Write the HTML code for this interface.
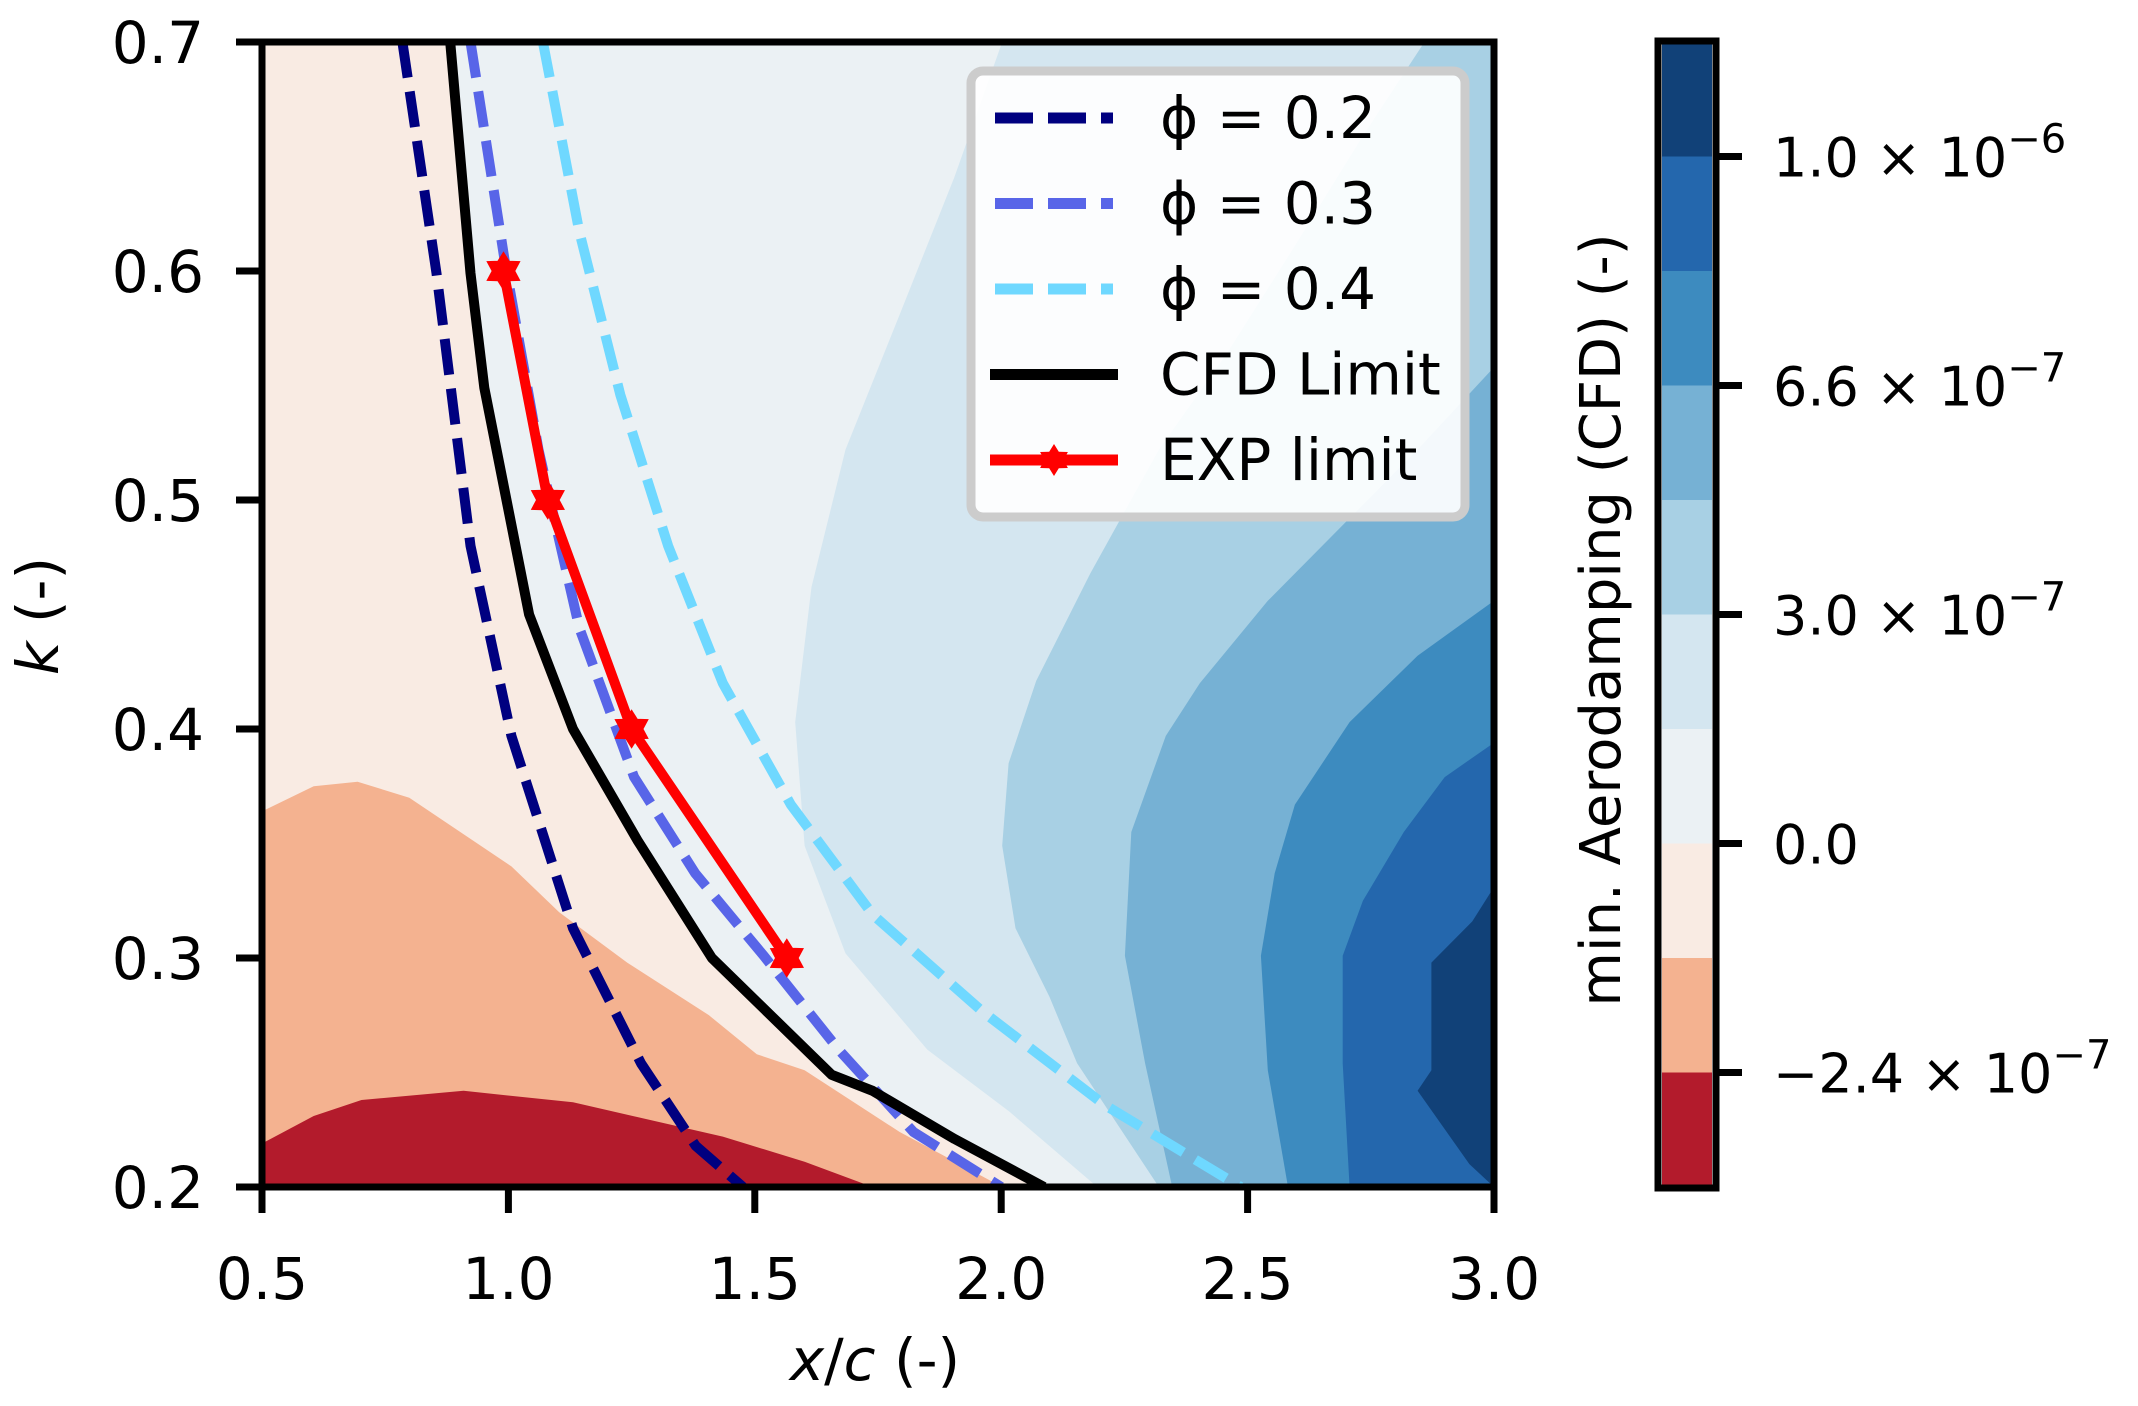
<!DOCTYPE html>
<html><head><meta charset="utf-8"><style>
html,body{margin:0;padding:0;background:#fff;width:2138px;height:1406px;overflow:hidden}
svg{display:block;font-family:"DejaVu Sans","Liberation Sans",sans-serif}
</style></head><body>
<svg id="chart" width="2138" height="1406" viewBox="0 0 2138 1406" xmlns="http://www.w3.org/2000/svg"></svg>
<script>
// ---- data ----
const xTicks = [0.5, 1.0, 1.5, 2.0, 2.5, 3.0];
const yTicks = [0.2, 0.3, 0.4, 0.5, 0.6, 0.7];
const bandColors = ["#114178","#2467ad","#3d8bbf","#76b1d4","#a8d0e4","#d4e6f0","#ebf1f4","#f9ebe3","#f4b290","#b31b2c"];
const cbTickIndex = [1, 3, 5, 7, 9];
const cbTickMant = ["1.0", "6.6", "3.0", "0.0", "\u22122.4"];
const cbTickExp = ["\u22126", "\u22127", "\u22127", "", "\u22127"];
// contour level boundaries (lower-left side regions)
const redDarkX = [0.5,0.605,0.702,0.909,1.131,1.435,1.601,1.739];
const redDarkY = [0.219,0.231,0.238,0.242,0.237,0.222,0.211,0.2];
const salmonX = [0.5,0.605,0.694,0.799,0.923,1.006,1.103,1.241,1.407,1.504,1.601,1.794,2.002];
const salmonY = [0.364,0.375,0.377,0.370,0.352,0.340,0.320,0.298,0.275,0.258,0.251,0.224,0.2];
const pinkX = [0.882,0.923,0.951,0.998,1.042,1.131,1.263,1.413,1.656,1.739,1.905,2.087];
const pinkY = [0.7,0.599,0.549,0.498,0.450,0.400,0.351,0.300,0.249,0.242,0.221,0.2];
// upper-right side regions
const pale1X = [2.002,1.905,1.794,1.684,1.615,1.582,1.601,1.684,1.850,2.016,2.195];
const pale1Y = [0.7,0.641,0.581,0.522,0.462,0.403,0.349,0.302,0.260,0.233,0.2];
const blue1X = [2.859,2.734,2.596,2.458,2.320,2.181,2.071,2.015,2.002,2.029,2.098,2.154,2.320];
const blue1Y = [0.7,0.659,0.611,0.564,0.522,0.468,0.421,0.385,0.349,0.313,0.283,0.254,0.2];
const blue2X = [3.0,2.845,2.679,2.541,2.403,2.334,2.264,2.251,2.292,2.347];
const blue2Y = [0.558,0.522,0.486,0.456,0.420,0.397,0.355,0.301,0.254,0.2];
const blue3X = [3.0,2.845,2.707,2.596,2.555,2.527,2.541,2.582];
const blue3Y = [0.456,0.432,0.403,0.367,0.337,0.301,0.251,0.2];
const blue4X = [3.0,2.900,2.817,2.734,2.693,2.693,2.707];
const blue4Y = [0.394,0.379,0.355,0.325,0.301,0.254,0.2];
const blue5X = [3.0,2.956,2.873,2.873,2.845,2.95,3.0];
const blue5Y = [0.331,0.316,0.298,0.251,0.242,0.21,0.2];
// lines
const phi02X = [0.785,0.854,0.923,1.006,1.131,1.269,1.380,1.476];
const phi02Y = [0.7,0.599,0.480,0.397,0.313,0.254,0.218,0.2];
const phi03X = [0.923,0.992,1.061,1.144,1.255,1.379,1.518,1.670,1.822,2.0];
const phi03Y = [0.7,0.605,0.522,0.444,0.379,0.337,0.301,0.260,0.224,0.2];
const phi04X = [1.070,1.144,1.227,1.324,1.435,1.573,1.739,1.960,2.209,2.486];
const phi04Y = [0.7,0.617,0.546,0.480,0.420,0.367,0.319,0.277,0.236,0.2];
const cfdX = [0.882,0.923,0.951,0.998,1.042,1.131,1.263,1.413,1.656,1.739,1.905,2.087];
const cfdY = [0.7,0.599,0.549,0.498,0.450,0.400,0.351,0.300,0.249,0.242,0.221,0.2];
const expX = [0.99,1.08,1.25,1.565];
const expY = [0.6,0.5,0.4,0.3];

// ---- layout ----
const L=262,R=1494,T=42,B=1187;
const sx = v => L + (v-0.5)/(3.0-0.5)*(R-L);
const sy = v => B - (v-0.2)/(0.7-0.2)*(B-T);
const NS="http://www.w3.org/2000/svg";
const svg=document.getElementById('chart');
function mk(tag,attrs,parent){const e=document.createElementNS(NS,tag);for(const k in attrs)e.setAttribute(k,attrs[k]);(parent||svg).appendChild(e);return e;}
const pts=(xs,ys)=>xs.map((x,i)=>sx(x).toFixed(1)+','+sy(ys[i]).toFixed(1));

const clip=mk('clipPath',{id:'pc'});mk('rect',{x:L,y:T,width:R-L,height:B-T},clip);
const plot=mk('g',{'clip-path':'url(#pc)'});


let r=mk('rect',{x:L,y:T,width:R-L,height:B-T,fill:bandColors[6]},plot);


function rightBand(xs,ys,color,name){
  const p=pts(xs,ys);p.push(sx(3.0)+','+sy(0.2));p.push(sx(3.0)+','+sy(0.7));
  const e=mk('polygon',{points:p.join(' '),fill:color},plot);
  
  
}
rightBand(pale1X,pale1Y,bandColors[5],'band-light-blue');
rightBand(blue1X,blue1Y,bandColors[4],'band-sky-blue');
rightBand(blue2X,blue2Y,bandColors[3],'band-mid-blue');
rightBand(blue3X,blue3Y,bandColors[2],'band-steel-blue');
rightBand(blue4X,blue4Y,bandColors[1],'band-blue');
rightBand(blue5X,blue5Y,bandColors[0],'band-dark-blue');
function leftBand(xs,ys,color,name){
  const p=pts(xs,ys);p.push(sx(0.5)+','+sy(0.2));
  if(ys[0]>=0.7)p.push(sx(0.5)+','+sy(0.7));
  const e=mk('polygon',{points:p.join(' '),fill:color},plot);
  
  
}
leftBand(pinkX,pinkY,bandColors[7],'band-light-pink');
leftBand(salmonX,salmonY,bandColors[8],'band-salmon');
leftBand(redDarkX,redDarkY,bandColors[9],'band-dark-red');

function line(xs,ys,color,dash,name){
  const e=mk('polyline',{points:pts(xs,ys).join(' '),fill:'none',stroke:color,'stroke-width':10,'stroke-dasharray':dash||'none','stroke-linejoin':'round'},plot);
  
  
}
line(phi02X,phi02Y,'#000080','36 14','phi-0.2-line');
line(phi03X,phi03Y,'#5865e8','36 14','phi-0.3-line');
line(phi04X,phi04Y,'#6fd8ff','36 14','phi-0.4-line');
line(cfdX,cfdY,'#000','','cfd-limit-line');
line(expX,expY,'#ff0000','','exp-limit-line');
function star(cx,cy,rad){const p=[];for(let i=0;i<12;i++){const a=-Math.PI/2+i*Math.PI/6;const rr=i%2?rad*0.6:rad;p.push((cx+rr*Math.cos(a)).toFixed(1)+','+(cy+rr*Math.sin(a)).toFixed(1));}return p.join(' ');}
expX.forEach((x,i)=>{
  const s=mk('polygon',{points:star(sx(x),sy(expY[i]),16),fill:'#ff0000',stroke:'#ff0000','stroke-width':4},svg);
  
  
});

const fr=mk('rect',{x:L,y:T,width:R-L,height:B-T,fill:'none',stroke:'#000','stroke-width':7});


xTicks.forEach(v=>{
  const x=sx(v);
  const t=mk('line',{x1:x,y1:B,x2:x,y2:B+26,stroke:'#000','stroke-width':7});
  
  
  const l=mk('text',{x:x,y:1299,'text-anchor':'middle','font-size':58});l.textContent=v.toFixed(1);
  
  
});
yTicks.forEach(v=>{
  const y=sy(v);
  const t=mk('line',{x1:L-26,y1:y,x2:L,y2:y,stroke:'#000','stroke-width':7});
  
  
  const l=mk('text',{x:204,y:y+21,'text-anchor':'end','font-size':58});l.textContent=v.toFixed(1);
  
  
});
let xl=mk('text',{x:875,y:1380,'text-anchor':'middle','font-size':58});
xl.innerHTML='<tspan font-style="italic">x</tspan>/<tspan font-style="italic">c</tspan> (-)';


let yl=mk('text',{x:0,y:0,'text-anchor':'middle','font-size':58,transform:'translate(58,616) rotate(-90)'});
yl.innerHTML='<tspan font-style="italic">k</tspan> (-)';



const lg=mk('g',{});


mk('rect',{x:971,y:71,width:494,height:446,rx:12,fill:'#fff','fill-opacity':0.92,stroke:'#cccccc','stroke-width':9},lg);
const legNames=['\u03d5 = 0.2','\u03d5 = 0.3','\u03d5 = 0.4','CFD Limit','EXP limit'];
const legCols=['#000080','#5865e8','#6fd8ff','#000','#ff0000'];
legNames.forEach((n,i)=>{
  const y=118+i*85.5;
  const dashed=i<3;
  const h=mk('line',{x1:dashed?995:990,y1:y,x2:dashed?1113:1118,y2:y,stroke:legCols[i],'stroke-width':11,'stroke-dasharray':dashed?'38 15':'none'},lg);
  
  
  if(i===4){const s=mk('polygon',{points:star(1054,y,16),fill:'#ff0000'},lg);
    
    }
  const t=mk('text',{x:1160,y:y+20,'font-size':58},lg);t.textContent=n;
  
  
});

const CL=1662,CR=1712;
const bandH=(B-T)/bandColors.length;
const cb=mk('g',{});


bandColors.forEach((c,i)=>{
  const b=mk('rect',{x:CL,y:T+i*bandH,width:CR-CL,height:bandH+0.5,fill:c},cb);
  
  
});
mk('rect',{x:CL-4,y:T-1,width:CR-CL+8,height:B-T+2,fill:'none',stroke:'#000','stroke-width':7},cb);
cbTickIndex.forEach((idx,i)=>{
  const y=T+idx*bandH;
  const t=mk('line',{x1:CR+4,y1:y,x2:1742,y2:y,stroke:'#000','stroke-width':7},cb);
  
  
  const l=mk('text',{x:1773,y:y+20,'font-size':54},cb);
  l.textContent=cbTickMant[i];
  if(cbTickExp[i]){
    const a=document.createElementNS(NS,'tspan');a.textContent=' \u00d7 10';l.appendChild(a);
    const b=document.createElementNS(NS,'tspan');b.setAttribute('dy','-24');b.setAttribute('font-size','40');b.textContent=cbTickExp[i];l.appendChild(b);
  }
  
  
});
let cl=mk('text',{x:0,y:0,'text-anchor':'middle','font-size':56,transform:'translate(1620,620) rotate(-90)'});
cl.textContent='min. Aerodamping (CFD) (-)';


</script>
</body></html>
